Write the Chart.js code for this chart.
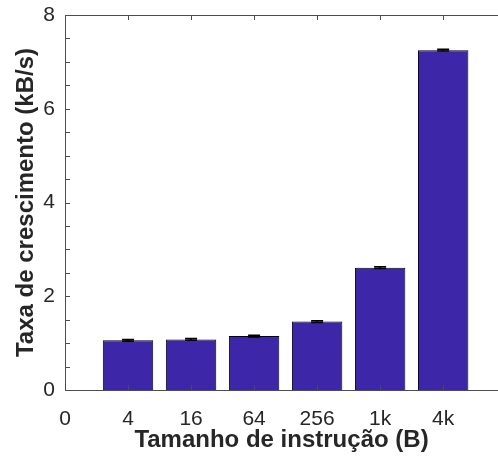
<!DOCTYPE html>
<html>
<head>
<meta charset="utf-8">
<script src="https://cdn.jsdelivr.net/npm/chart.js@4/dist/chart.umd.min.js"></script>
<style>
  html, body { margin: 0; padding: 0; background: #fff; overflow: hidden; }
</style>
</head>
<body>
<canvas id="growthChart" width="498" height="459"></canvas>
<script>
// data
const categories = ['4', '16', '64', '256', '1k', '4k'];
const rates = [1.06, 1.08, 1.15, 1.46, 2.61, 7.25];
const rateErrors = [0.02, 0.02, 0.02, 0.02, 0.02, 0.02];
const xTickLabels = ['0', '4', '16', '64', '256', '1k', '4k'];
const yTickLabels = ['0', '2', '4', '6', '8'];

const axisColor = '#262626';
const fontFamily = '"Liberation Sans", Arial, Helvetica, sans-serif';

// bars sit at x = 1..6, the "0" tick is left empty like in the original
const points = categories.map((c, i) => ({x: i + 1, y: rates[i]}));

// box on three sides (right edge is cut off in the original), inward ticks, error bars
const axesPlugin = {
	id: 'matlabAxes',
	afterDatasetsDraw(chart) {
		const {ctx, chartArea, scales} = chart;
		const xs = scales.x, ys = scales.y;
		const tick = 5;

		// error bars
		ctx.save();
		ctx.strokeStyle = '#000';
		ctx.lineWidth = 1.5;
		points.forEach((p, i) => {
			const px = xs.getPixelForValue(p.x);
			const lo = ys.getPixelForValue(p.y - rateErrors[i]);
			const hi = ys.getPixelForValue(p.y + rateErrors[i]);
			ctx.beginPath();
			ctx.moveTo(px, lo); ctx.lineTo(px, hi);
			ctx.moveTo(px - 6, lo); ctx.lineTo(px + 6, lo);
			ctx.moveTo(px - 6, hi); ctx.lineTo(px + 6, hi);
			ctx.stroke();
		});
		ctx.restore();

		ctx.save();
		ctx.strokeStyle = '#4d4d4d';
		ctx.lineWidth = 1;
		ctx.beginPath();
		ctx.moveTo(chartArea.right + 2, chartArea.top + 0.5);
		ctx.lineTo(chartArea.left + 0.5, chartArea.top + 0.5);
		ctx.lineTo(chartArea.left + 0.5, chartArea.bottom + 0.5);
		ctx.lineTo(chartArea.right + 2, chartArea.bottom + 0.5);
		xs.ticks.forEach(t => {
			if (!Number.isInteger(t.value) || xTickLabels[t.value] === undefined) return;
			const px = Math.round(xs.getPixelForValue(t.value)) + 0.5;
			ctx.moveTo(px, chartArea.bottom); ctx.lineTo(px, chartArea.bottom - tick);
			ctx.moveTo(px, chartArea.top); ctx.lineTo(px, chartArea.top + tick);
		});
		ys.ticks.forEach(t => {
			const py = Math.round(ys.getPixelForValue(t.value)) + 0.5;
			ctx.moveTo(chartArea.left, py); ctx.lineTo(chartArea.left + tick, py);
		});
		ctx.stroke();
		ctx.restore();
	}
};

new Chart(document.getElementById('growthChart'), {
	type: 'bar',
	data: {
		datasets: [{
			data: points,
			backgroundColor: '#3e26a8',
			borderColor: '#000',
			borderWidth: 1,
			barPercentage: 0.8,
			categoryPercentage: 1.0
		}]
	},
	options: {
		responsive: false,
		animation: false,
		layout: {padding: {top: 15, right: 0, left: 0, bottom: 0}},
		plugins: {
			legend: {display: false},
			tooltip: {enabled: false}
		},
		scales: {
			x: {
				type: 'linear',
				offset: false,
				min: 0,
				max: 6.87,
				grid: {display: false, drawTicks: false},
				border: {display: false},
				afterFit: s => { s.height = 69; s.paddingLeft = 0; s.paddingRight = 0; },
				ticks: {
					stepSize: 1,
					autoSkip: false,
					maxRotation: 0,
					includeBounds: false,
					padding: 17,
					color: axisColor,
					font: {family: fontFamily, size: 21},
					callback: v => Number.isInteger(v) && xTickLabels[v] !== undefined ? xTickLabels[v] : ''
				},
				title: {
					display: true,
					text: 'Tamanho de instrução (B)',
					color: axisColor,
					font: {family: fontFamily, size: 24, weight: 'bold'},
					padding: {top: 0, bottom: 4}
				}
			},
			y: {
				min: 0,
				max: 8,
				grid: {display: false, drawTicks: false},
				border: {display: false},
				afterFit: s => { s.width = 65; s.paddingTop = 0; s.paddingBottom = 0; },
				ticks: {
					stepSize: 0.5,
					autoSkip: false,
					padding: 10,
					color: axisColor,
					font: {family: fontFamily, size: 21},
					callback: v => yTickLabels.includes(String(v)) ? String(v) : ''
				},
				title: {
					display: true,
					text: 'Taxa de crescimento (kB/s)',
					color: axisColor,
					font: {family: fontFamily, size: 24, weight: 'bold'},
					padding: {top: 12, bottom: 4}
				}
			}
		}
	},
	plugins: [axesPlugin]
});
</script>
</body>
</html>
